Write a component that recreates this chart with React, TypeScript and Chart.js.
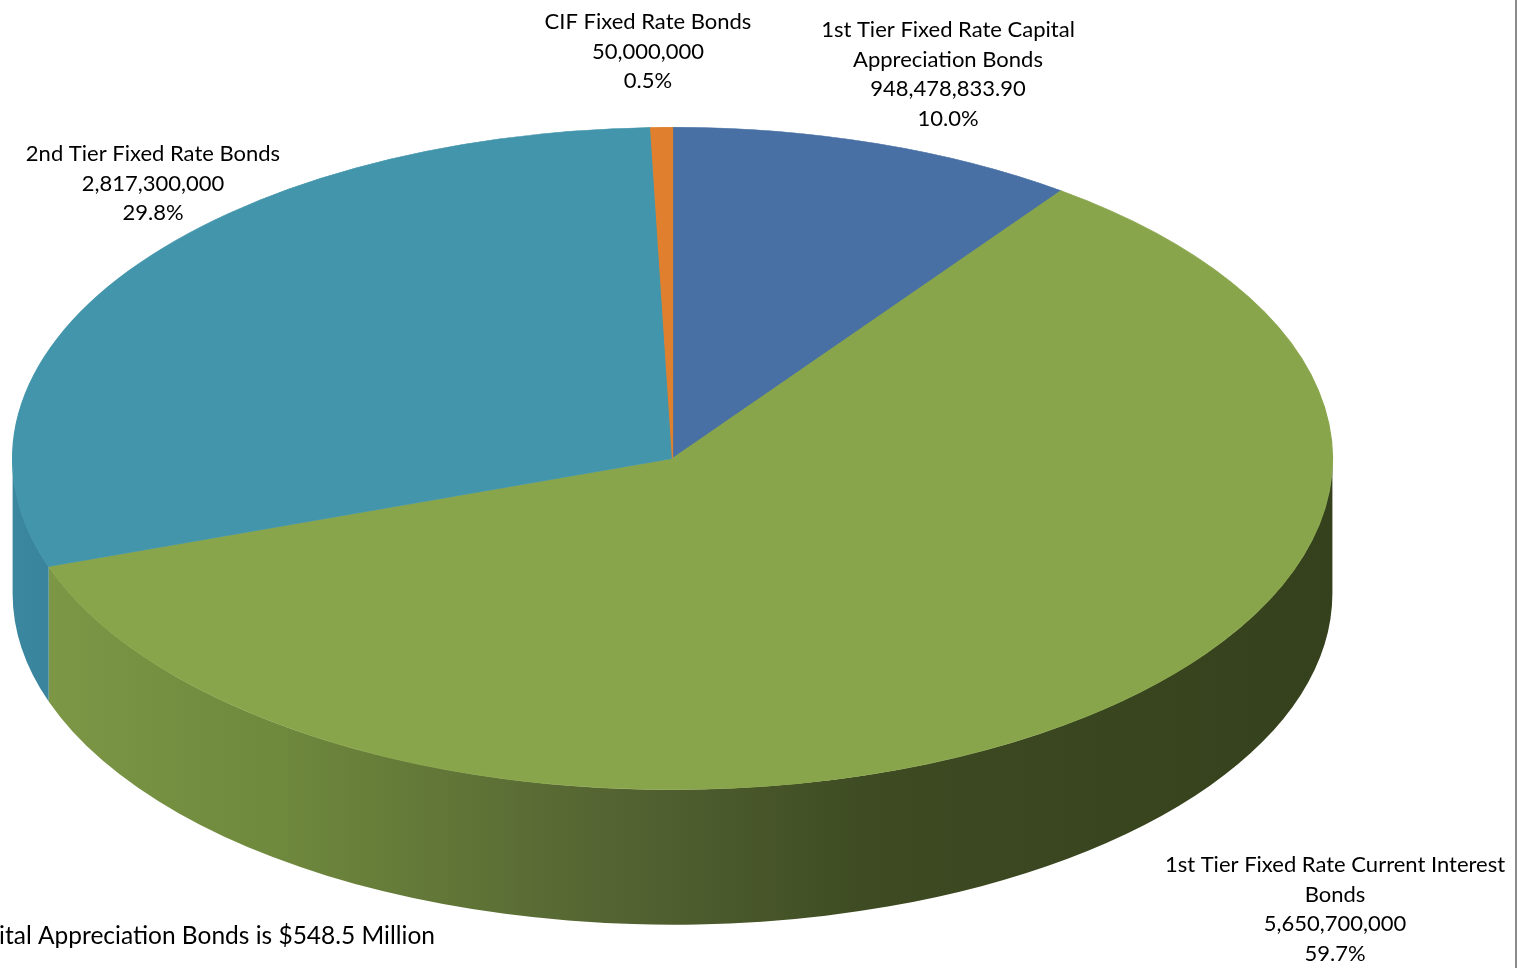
import React, { useEffect, useRef } from "react";
import { Chart, registerables } from "chart.js";

Chart.register(...registerables);

// ---- data ----
const categories = [
  "1st Tier Fixed Rate Capital Appreciation Bonds",
  "1st Tier Fixed Rate Current Interest Bonds",
  "2nd Tier Fixed Rate Bonds",
  "CIF Fixed Rate Bonds",
];
const values = [948478833.9, 5650700000, 2817300000, 50000000];
const valueLabels = ["948,478,833.90", "5,650,700,000", "2,817,300,000", "50,000,000"];
const percentLabels = ["10.0%", "59.7%", "29.8%", "0.5%"];
const categoryLines = [
  ["1st Tier Fixed Rate Capital", "Appreciation Bonds"],
  ["1st Tier Fixed Rate Current Interest", "Bonds"],
  ["2nd Tier Fixed Rate Bonds"],
  ["CIF Fixed Rate Bonds"],
];
const noteText = "ital Appreciation Bonds is $548.5 Million";

// ---- styles / layout ----
const topColors = ["#4870a4", "#89a54c", "#4295ab", "#e0802e"];
const sideStops: [number, string][][] = [
  [[0, "#3a5a86"], [1, "#2a4266"]],
  [[0, "#7e9947"], [0.2, "#6f893d"], [0.45, "#546432"], [0.66, "#3d4a22"], [1, "#34411c"]],
  [[0, "#3b87a0"], [0.1, "#377d94"], [1, "#357b91"]],
  [[0, "#b8661f"], [1, "#a05818"]],
];
const X_STRETCH = 660.5 / 331.5;
const DEPTH = 135;
const FONT_FAMILY = "Lato, 'Noto Sans', sans-serif";
const FONT_SIZE = 22;
const NOTE_FONT_SIZE = 24.5;
const LINE_H = 29.7;
const labelAnchors = [
  { x: 948, y: 30 },
  { x: 1335, y: 865 },
  { x: 153, y: 154 },
  { x: 648, y: 22 },
];
const noteAnchor = { x: 435, y: 936 };

const pie3d = {
  id: "pie3d",
  beforeDatasetsDraw(chart: any) {
    const ctx: CanvasRenderingContext2D = chart.ctx;
    const meta = chart.getDatasetMeta(0);
    const arcs = meta.data;
    if (!arcs.length) return;
    const p0 = arcs[0].getProps(["x", "y", "outerRadius"], true);
    const cx = p0.x, cy = p0.y, r = p0.outerRadius;
    const rx = r * X_STRETCH, ry = r;
    ctx.save();
    arcs.forEach((arc: any, i: number) => {
      const p = arc.getProps(["startAngle", "endAngle"], true);
      for (let k = -1; k <= 1; k++) {
        const lo = Math.max(p.startAngle, 2 * Math.PI * k);
        const hi = Math.min(p.endAngle, 2 * Math.PI * k + Math.PI);
        if (hi <= lo) continue;
        const g = ctx.createLinearGradient(cx - rx, 0, cx + rx, 0);
        sideStops[i].forEach(([o, c]) => g.addColorStop(o, c));
        ctx.beginPath();
        ctx.ellipse(cx, cy, rx, ry, 0, lo, hi, false);
        ctx.ellipse(cx, cy + DEPTH, rx, ry, 0, hi, lo, true);
        ctx.closePath();
        ctx.fillStyle = g;
        ctx.fill();
      }
    });
    ctx.restore();
    // stretch the circular top face horizontally into an ellipse
    ctx.save();
    ctx.translate(cx, 0);
    ctx.scale(X_STRETCH, 1);
    ctx.translate(-cx, 0);
  },
  afterDatasetsDraw(chart: any) {
    chart.ctx.restore();
  },
  afterDraw(chart: any) {
    const ctx: CanvasRenderingContext2D = chart.ctx;
    ctx.save();
    ctx.fillStyle = "#000000";
    ctx.font = `${FONT_SIZE}px ${FONT_FAMILY}`;
    ctx.textBaseline = "middle";
    ctx.textAlign = "center";
    categories.forEach((_c, i) => {
      const lines = [...categoryLines[i], valueLabels[i], percentLabels[i]];
      const a = labelAnchors[i];
      lines.forEach((t, j) => ctx.fillText(t, a.x, a.y + j * LINE_H));
    });
    ctx.textAlign = "right";
    ctx.font = `${NOTE_FONT_SIZE}px ${FONT_FAMILY}`;
    ctx.fillText(noteText, noteAnchor.x, noteAnchor.y);
    // frame line on the right
    ctx.fillStyle = "#8c8c8c";
    ctx.fillRect(1515, 0, 2, chart.height);
    ctx.restore();
  },
};

export default function App() {
  const ref = useRef<HTMLCanvasElement | null>(null);
  useEffect(() => {
    document.body.style.margin = "0";
    const canvas = ref.current!;
    const chart = new Chart(canvas, {
      type: "pie",
      data: {
        labels: categories,
        datasets: [
          {
            data: values,
            backgroundColor: topColors,
            borderColor: topColors,
            borderWidth: 0.6,
            hoverOffset: 0,
            clip: false,
          } as any,
        ],
      },
      options: {
        responsive: false,
        animation: false,
        events: [],
        layout: { padding: { left: 341, right: 529, top: 127, bottom: 178 } },
        plugins: {
          legend: { display: false },
          tooltip: { enabled: false },
          title: { display: false },
        },
      },
      plugins: [pie3d],
    });
    return () => chart.destroy();
  }, []);
  return (
    <div style={{ position: "absolute", left: 0, top: 0, width: 1533, height: 968, background: "#ffffff" }}>
      <canvas ref={ref} width={1533} height={968} style={{ display: "block" }} />
    </div>
  );
}
